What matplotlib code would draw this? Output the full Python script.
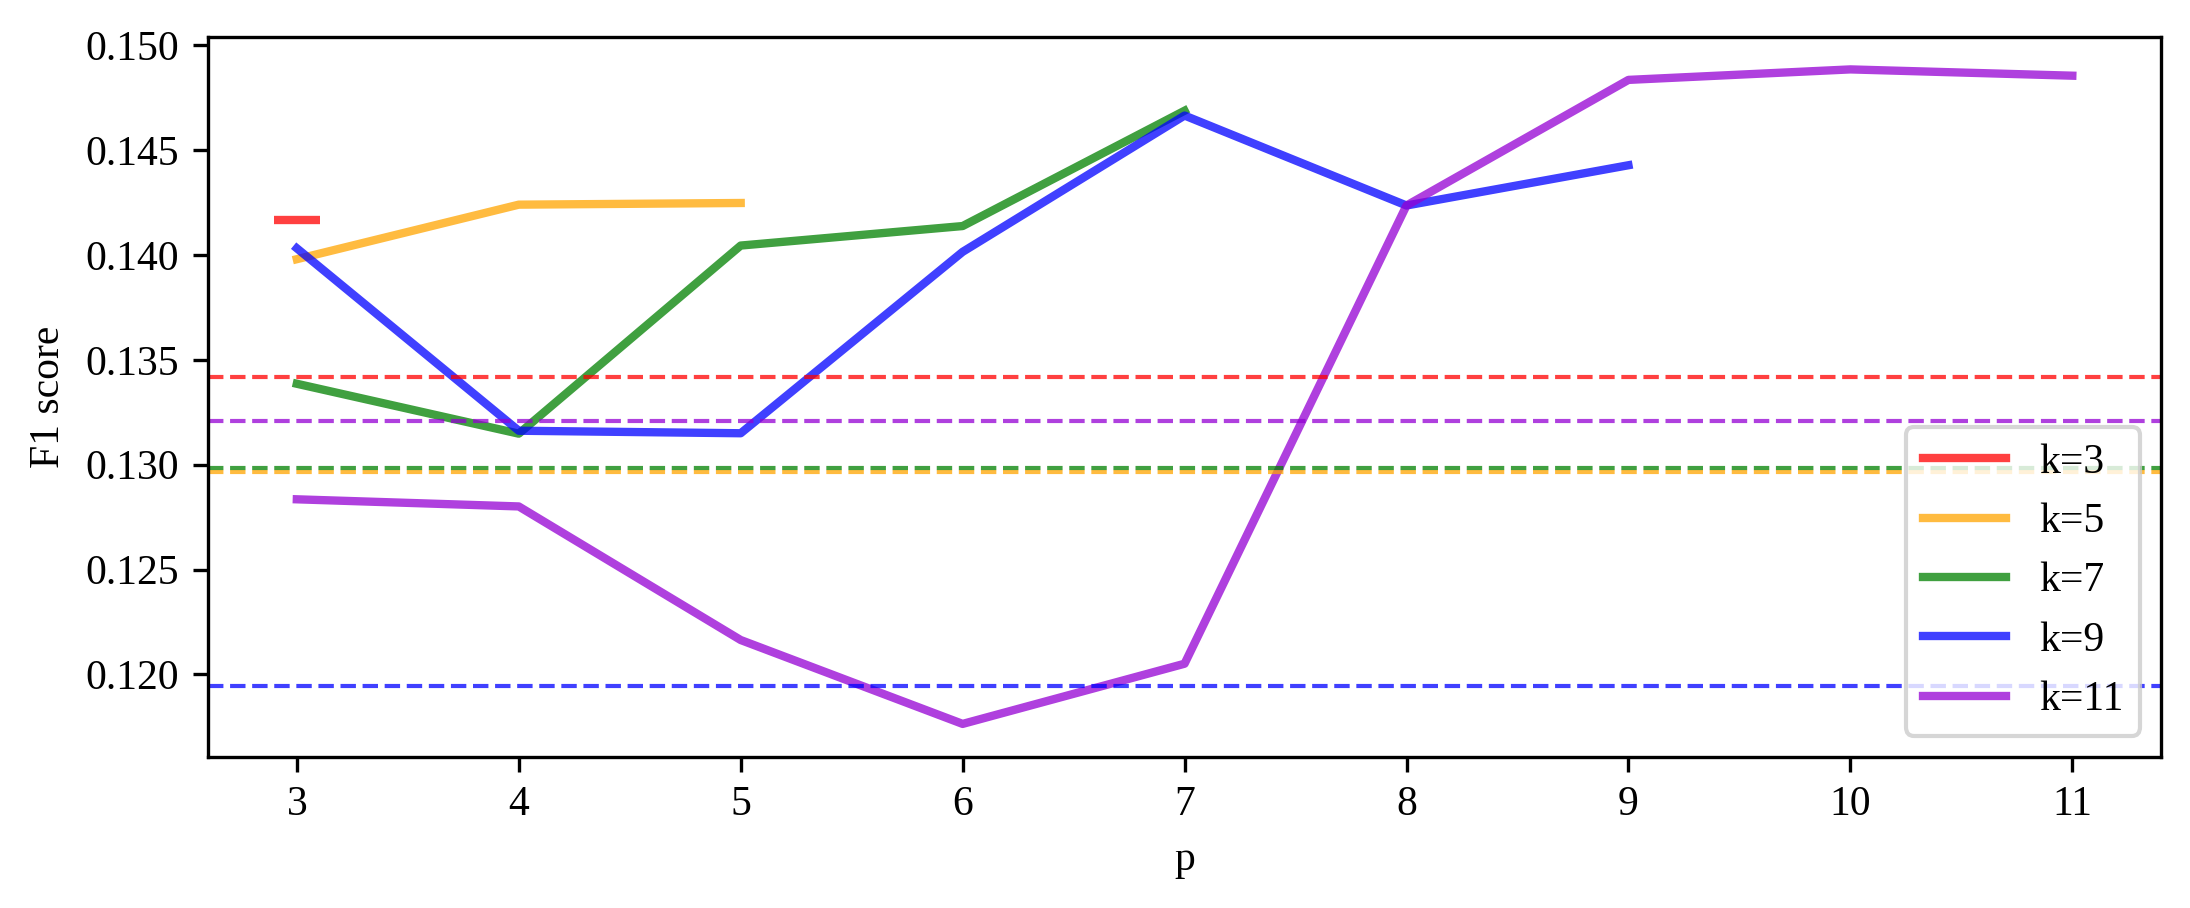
import matplotlib
matplotlib.use('Agg')
import matplotlib.pyplot as plt

plt.rcParams['font.family'] = ['Liberation Serif', 'DejaVu Serif']
plt.rcParams['font.size'] = 10

# F1 score per p, for each k (p runs from 3 up to k)
p_vals = [3, 4, 5, 6, 7, 8, 9, 10, 11]
k_labels = ['k=3', 'k=5', 'k=7', 'k=9', 'k=11']
colors = ['red', 'orange', 'green', 'blue', 'darkviolet']

f1_k3 = [0.14166]
f1_k5 = [0.13980, 0.14240, 0.14248]
f1_k7 = [0.13386, 0.13148, 0.14045, 0.14138, 0.14688]
f1_k9 = [0.14032, 0.13162, 0.13150, 0.14015, 0.14665, 0.14236, 0.14428]
f1_k11 = [0.12835, 0.12801, 0.12164, 0.11764, 0.12051, 0.14236, 0.14835, 0.14885, 0.14855]

# baselines (dashed)
base_vals = [0.13418, 0.12967, 0.12984, 0.11944, 0.13208]

series = [f1_k3, f1_k5, f1_k7, f1_k9, f1_k11]

fig, ax = plt.subplots(figsize=(7.3, 3.0267), dpi=300)
fig.subplots_adjust(left=0.095, right=0.9868, top=0.9596, bottom=0.1667)

for lab, col, vals in zip(k_labels, colors, series):
    xs = p_vals[:len(vals)]
    ax.plot(xs, vals, color=col, alpha=0.75, lw=2, label=lab)
    if len(vals) == 1:
        # a single point shows up as a short dash
        ax.plot(xs, vals, color=col, alpha=0.75, marker='_', ms=11, mew=2,
                linestyle='none')

for col, b in zip(colors, base_vals):
    ax.axhline(b, color=col, alpha=0.75, lw=1, linestyle='--')

ax.set_xticks(p_vals)
ax.set_xlabel('p')
ax.set_ylabel('F1 score')
ax.legend(loc='lower right')

fig.savefig('out.png', dpi=300)
